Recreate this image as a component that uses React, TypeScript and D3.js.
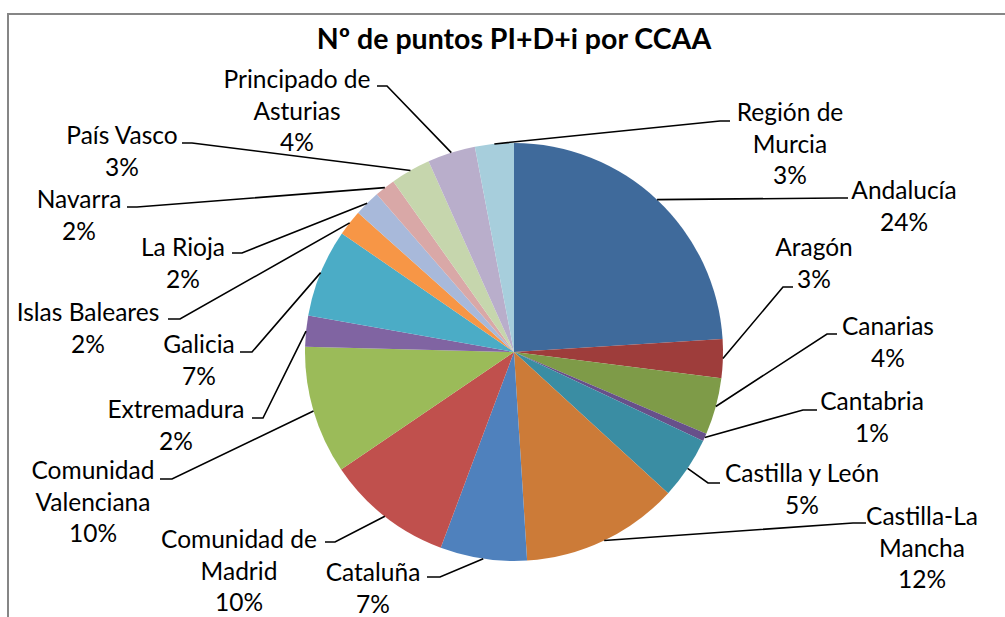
import * as d3 from 'd3';
import { useEffect, useRef } from 'react';

// Data (share of PI+D+i points per region, in %)
const regions = [
  'Andalucía', 'Aragón', 'Canarias', 'Cantabria', 'Castilla y León', 'Castilla-La Mancha',
  'Cataluña', 'Comunidad de Madrid', 'Comunidad Valenciana', 'Extremadura', 'Galicia',
  'Islas Baleares', 'La Rioja', 'Navarra', 'País Vasco', 'Principado de Asturias', 'Región de Murcia',
];
const shares = [24.0, 3.0, 4.4, 0.6, 4.8, 12.2, 6.7, 9.8, 9.9, 2.4, 6.8, 2.0, 2.0, 1.6, 3.1, 3.7, 3.0];
// how each label is broken into lines
const labelLines = [
  ['Andalucía'], ['Aragón'], ['Canarias'], ['Cantabria'], ['Castilla y León'], ['Castilla-La', 'Mancha'],
  ['Cataluña'], ['Comunidad de', 'Madrid'], ['Comunidad', 'Valenciana'], ['Extremadura'], ['Galicia'],
  ['Islas Baleares'], ['La Rioja'], ['Navarra'], ['País Vasco'], ['Principado de', 'Asturias'], ['Región de', 'Murcia'],
];
const colors = [
  '#3f6a9b', '#9e3d3b', '#7e9b48', '#67508a', '#3a8da3', '#cc7b38',
  '#4f81bd', '#c0504d', '#9bbb59', '#8064a2', '#4bacc6', '#f79646',
  '#a8b9da', '#d9a8a7', '#c6d6ad', '#b9aecb', '#a7cedc',
];
const title = 'Nº de puntos PI+D+i por CCAA';

// Label placement (manually placed in the original): [textX, firstLineY, elbowX, elbowY, endX]
const labelLayout = [
  [904, 191, 838, 198, 848],
  [814, 248, 783, 287, 793],
  [888, 327, 827, 334, 837],
  [872, 402, 803, 410, 817],
  [802, 474, 708, 483, 720],
  [922, 517, 853, 523, 866],
  [373, 573, 440, 577, 427],
  [239, 540, 335, 542, 325],
  [93, 471, 172, 479, 160],
  [176, 410, 263, 418, 252],
  [199, 345, 252, 352, 240],
  [88, 313, 180, 319, 168],
  [183, 248, 242, 253, 232],
  [79, 200, 137, 207, 127],
  [122, 136, 192, 143, 182],
  [297, 80, 387, 86, 377],
  [790, 113, 720, 121, 730],
];

export default function App() {
  const svgRef = useRef(null);

  useEffect(() => {
    d3.select(svgRef.current).selectAll('*').remove();

    const width = 1005;
    const height = 617;
    const cx = 514;
    const cy = 352;
    const radius = 209;
    const lineHeight = 31.5;

    const svg = d3.select(svgRef.current)
      .attr('viewBox', [0, 0, width, height])
      .attr('width', width)
      .attr('height', height)
      .style('font-family', 'Lato, "Open Sans", sans-serif');

    svg.append('rect')
      .attr('width', width)
      .attr('height', height)
      .attr('fill', 'white');

    // chart frame (cut off on the right and bottom)
    svg.append('path')
      .attr('d', `M8,${height + 5}V14H${width + 5}`)
      .attr('fill', 'none')
      .attr('stroke', '#868686')
      .attr('stroke-width', 2);

    svg.append('text')
      .attr('x', cx)
      .attr('y', 49)
      .attr('text-anchor', 'middle')
      .attr('font-size', 28.5)
      .attr('font-weight', 'bold')
      .attr('fill', '#000')
      .text(title);

    const data = regions.map((name, i) => ({ name, value: shares[i], i }));
    const total = d3.sum(shares);

    const pie = d3.pie().sort(null).value(d => d.value);
    const arcs = pie(data);

    const arc = d3.arc().innerRadius(0).outerRadius(radius);
    const edge = d3.arc().innerRadius(radius).outerRadius(radius);

    const g = svg.append('g').attr('transform', `translate(${cx},${cy})`);

    g.selectAll('path')
      .data(arcs)
      .join('path')
      .attr('d', arc)
      .attr('fill', d => colors[d.data.i]);

    // leader lines
    svg.append('g')
      .selectAll('path')
      .data(arcs)
      .join('path')
      .attr('fill', 'none')
      .attr('stroke', '#000')
      .attr('stroke-width', 1.6)
      .attr('d', d => {
        const [px, py] = edge.centroid(d);
        const [, , ex, ey, endX] = labelLayout[d.data.i];
        return `M${cx + px},${cy + py}L${ex},${ey}H${endX}`;
      });

    // labels: name lines + percentage
    svg.append('g')
      .selectAll('text')
      .data(arcs)
      .join('text')
      .attr('text-anchor', 'middle')
      .attr('font-size', 24.5)
      .attr('fill', '#000')
      .call(text => text.selectAll('tspan')
        .data(d => [...labelLines[d.data.i], `${Math.round(d.data.value / total * 100)}%`]
          .map((t, k) => ({ t, k, i: d.data.i })))
        .join('tspan')
        .attr('x', d => labelLayout[d.i][0])
        .attr('y', d => labelLayout[d.i][1] + 8 + d.k * lineHeight)
        .text(d => d.t));
  }, []);

  return (
    <svg ref={svgRef} style={{ position: 'absolute', left: 0, top: 0, display: 'block' }} />
  );
}
